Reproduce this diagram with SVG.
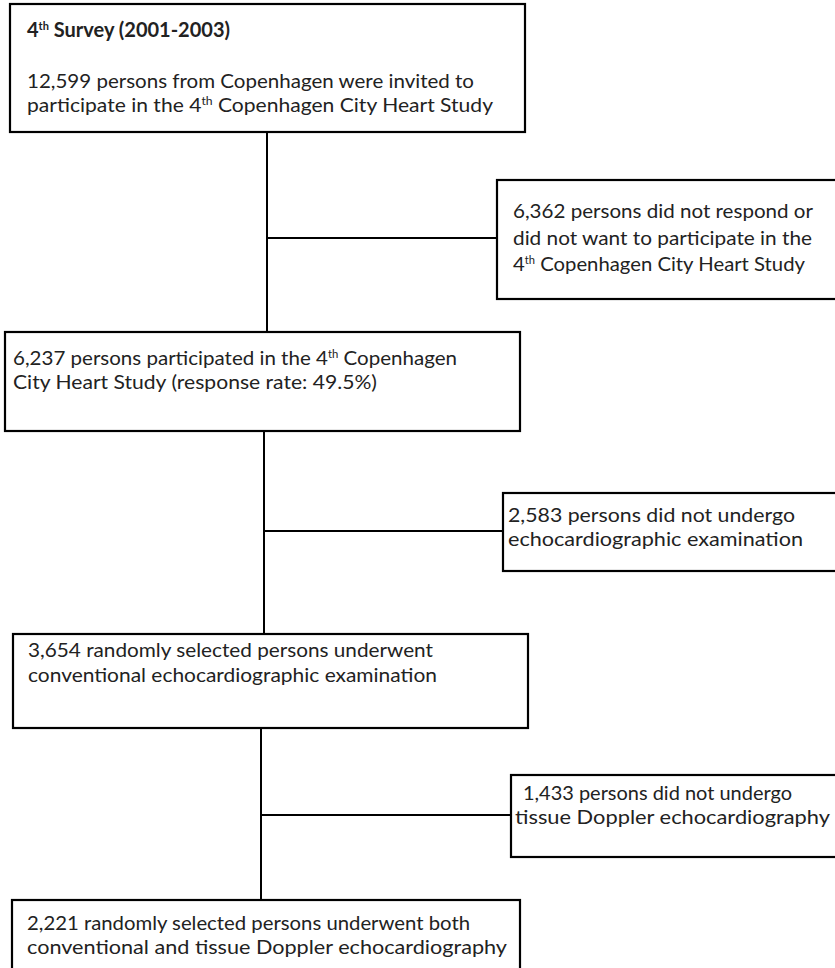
<svg xmlns="http://www.w3.org/2000/svg" width="835" height="968" viewBox="0 0 835 968">
<style>
.box{fill:#fff;stroke:#000;stroke-width:2.2}
.ln{stroke:#000;stroke-width:2;fill:none}
text{font-family:Lato,"Open Sans","Liberation Sans",sans-serif;font-size:20px;fill:#222}
.s19{font-size:19px}
.b{font-weight:bold}
.sup{font-size:11px}
</style>
<rect width="835" height="968" fill="#fff"/>
<g id="connectors">
<line class="ln" x1="267" y1="132" x2="267" y2="332"/>
<line class="ln" x1="267" y1="238" x2="497" y2="238"/>
<line class="ln" x1="264" y1="431" x2="264" y2="634"/>
<line class="ln" x1="264" y1="531" x2="503" y2="531"/>
<line class="ln" x1="261" y1="728" x2="261" y2="900"/>
<line class="ln" x1="261" y1="815" x2="511" y2="815"/>
</g>
<g id="n1">
<rect class="box" x="10" y="4" width="515" height="128"/>
<text class="b" x="27" y="37" textLength="203" lengthAdjust="spacingAndGlyphs">4<tspan class="sup" dy="-7">th</tspan><tspan dy="7"> Survey (2001-2003)</tspan></text>
<text class="s19" x="27" y="88" textLength="447" lengthAdjust="spacingAndGlyphs">12,599 persons from Copenhagen were invited to</text>
<text class="s19" x="27" y="112" textLength="466" lengthAdjust="spacingAndGlyphs">participate in the 4<tspan class="sup" dy="-7">th</tspan><tspan dy="7"> Copenhagen City Heart Study</tspan></text>
</g>
<g id="n2">
<rect class="box" x="497" y="180" width="340" height="119"/>
<text x="513" y="218" textLength="300" lengthAdjust="spacingAndGlyphs">6,362 persons did not respond or</text>
<text x="513" y="245" textLength="299" lengthAdjust="spacingAndGlyphs">did not want to participate in the</text>
<text x="513" y="271" textLength="292" lengthAdjust="spacingAndGlyphs">4<tspan class="sup" dy="-7">th</tspan><tspan dy="7"> Copenhagen City Heart Study</tspan></text>
</g>
<g id="n3">
<rect class="box" x="5" y="332" width="515" height="99"/>
<text x="13" y="365" textLength="444" lengthAdjust="spacingAndGlyphs">6,237 persons participated in the 4<tspan class="sup" dy="-7">th</tspan><tspan dy="7"> Copenhagen</tspan></text>
<text x="13" y="389" textLength="364" lengthAdjust="spacingAndGlyphs">City Heart Study (response rate: 49.5%)</text>
</g>
<g id="n4">
<rect class="box" x="503" y="493" width="340" height="78"/>
<text x="508" y="522" textLength="287" lengthAdjust="spacingAndGlyphs">2,583 persons did not undergo</text>
<text x="508" y="546" textLength="295" lengthAdjust="spacingAndGlyphs">echocardiographic examination</text>
</g>
<g id="n5">
<rect class="box" x="13" y="634" width="515" height="94"/>
<text x="28" y="657" textLength="405" lengthAdjust="spacingAndGlyphs">3,654 randomly selected persons underwent</text>
<text x="28" y="682" textLength="409" lengthAdjust="spacingAndGlyphs">conventional echocardiographic examination</text>
</g>
<g id="n6">
<rect class="box" x="511" y="775" width="330" height="82"/>
<text x="523" y="800" textLength="269" lengthAdjust="spacingAndGlyphs">1,433 persons did not undergo</text>
<text x="515" y="824" textLength="315" lengthAdjust="spacingAndGlyphs">tissue Doppler echocardiography</text>
</g>
<g id="n7">
<rect class="box" x="12" y="900" width="508" height="90"/>
<text x="27" y="930" textLength="443" lengthAdjust="spacingAndGlyphs">2,221 randomly selected persons underwent both</text>
<text x="27" y="954" textLength="480" lengthAdjust="spacingAndGlyphs">conventional and tissue Doppler echocardiography</text>
</g>
</svg>
